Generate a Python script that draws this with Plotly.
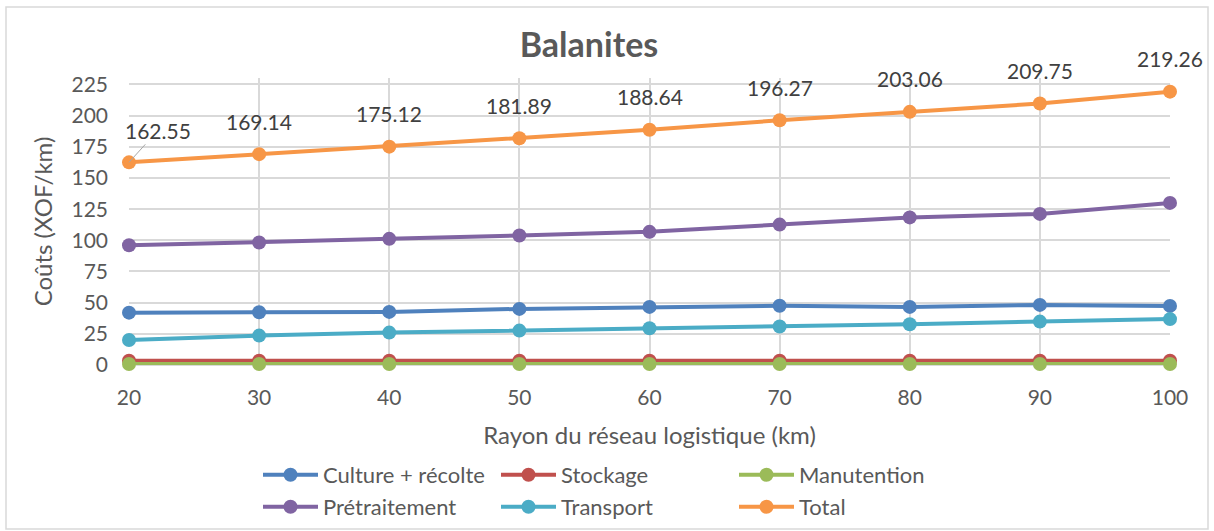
import plotly.graph_objects as go

# Rayon du réseau logistique (km)
rayon = [20, 30, 40, 50, 60, 70, 80, 90, 100]

# Coûts par poste (XOF/km)
culture_recolte = [42.0, 42.3, 42.6, 45.0, 46.6, 47.5, 46.6, 48.2, 47.4]
stockage = [3.4, 3.4, 3.4, 3.4, 3.4, 3.4, 3.4, 3.4, 3.4]
manutention = [0.8, 0.8, 0.8, 0.8, 0.8, 0.8, 0.8, 0.8, 0.8]
pretraitement = [96.0, 98.2, 101.2, 103.9, 106.8, 112.6, 118.4, 121.2, 130.0]
transport = [20.0, 23.6, 26.0, 27.6, 29.5, 30.9, 32.7, 34.8, 36.8]
total = [162.55, 169.14, 175.12, 181.89, 188.64, 196.27, 203.06, 209.75, 219.26]

y_ticks = [0, 25, 50, 75, 100, 125, 150, 175, 200, 225]

FONT = "Lato"
TEXT = "#595959"
GRID = "#D9D9D9"

series = [
    ("Culture + récolte", culture_recolte, "#4F81BD", "legend"),
    ("Stockage", stockage, "#C0504D", "legend"),
    ("Manutention", manutention, "#9BBB59", "legend"),
    ("Prétraitement", pretraitement, "#8064A2", "legend2"),
    ("Transport", transport, "#4BACC6", "legend2"),
    ("Total", total, "#F79646", "legend2"),
]

fig = go.Figure()
for name, vals, color, leg in series:
    fig.add_trace(go.Scatter(
        x=rayon, y=vals, name=name, mode="lines+markers",
        line=dict(color=color, width=4),
        marker=dict(color=color, size=14),
        cliponaxis=False, legend=leg,
    ))

# Étiquettes de valeur de la série Total
annotations = []
for i, (xv, yv) in enumerate(zip(rayon, total)):
    if i == 0:
        annotations.append(dict(
            x=xv, y=yv, xref="x", yref="y", text=f"{yv:.2f}",
            showarrow=True, arrowhead=0, arrowwidth=1, arrowcolor="#A6A6A6",
            ax=29, ay=-32, standoff=0,
            font=dict(family=FONT, size=21, color="#404040"),
        ))
    else:
        annotations.append(dict(
            x=xv, y=yv, xref="x", yref="y", text=f"{yv:.2f}",
            showarrow=False, yshift=33,
            font=dict(family=FONT, size=21, color="#404040"),
        ))

H_PLOT = 287.0
W_PLOT = 1041.0
LEG_X = (258 - 129) / W_PLOT

fig.update_layout(
    width=1214, height=531,
    margin=dict(l=129, r=44, t=78, b=166, autoexpand=False),
    paper_bgcolor="white", plot_bgcolor="white",
    font=dict(family=FONT, color=TEXT),
    title=dict(text="<b>Balanites</b>", x=589 / 1214, xanchor="center",
               y=1 - 45 / 531, yanchor="middle",
               font=dict(family=FONT, size=34, color=TEXT)),
    xaxis=dict(
        range=[20, 100], tickvals=rayon, showgrid=True, gridcolor=GRID,
        gridwidth=1.5, showline=False, zeroline=False,
        ticks="", ticklabelstandoff=18, automargin=False,
        tickfont=dict(family=FONT, size=21, color=TEXT),
        title=dict(text="Rayon du réseau logistique (km)", standoff=19,
                   font=dict(family=FONT, size=24, color=TEXT)),
    ),
    yaxis=dict(
        range=[0, 230.2], tickvals=y_ticks, showgrid=True, gridcolor=GRID,
        gridwidth=1.5, zeroline=True, zerolinecolor=GRID, zerolinewidth=1.5,
        ticks="", ticklabelstandoff=20, automargin=False,
        tickfont=dict(family=FONT, size=21, color=TEXT),
        title=dict(text="Coûts (XOF/km)", standoff=12,
                   font=dict(family=FONT, size=24, color=TEXT)),
    ),
    legend=dict(orientation="h", x=LEG_X, xanchor="left",
                y=(365 - 475) / H_PLOT, yanchor="middle",
                entrywidth=168, entrywidthmode="pixels", itemwidth=55,
                font=dict(family=FONT, size=22, color=TEXT),
                bgcolor="rgba(0,0,0,0)"),
    legend2=dict(orientation="h", x=LEG_X, xanchor="left",
                 y=(365 - 507) / H_PLOT, yanchor="middle",
                 entrywidth=168, entrywidthmode="pixels", itemwidth=55,
                 font=dict(family=FONT, size=22, color=TEXT),
                 bgcolor="rgba(0,0,0,0)"),
    annotations=annotations,
    shapes=[dict(
        type="rect", xref="paper", yref="paper",
        x0=(6 - 129) / W_PLOT, x1=(1208 - 129) / W_PLOT,
        y0=(365 - 529) / H_PLOT, y1=(365 - 7) / H_PLOT,
        line=dict(color=GRID, width=1.5), fillcolor="rgba(0,0,0,0)",
        layer="below",
    )],
)

fig.write_html("out.html")
